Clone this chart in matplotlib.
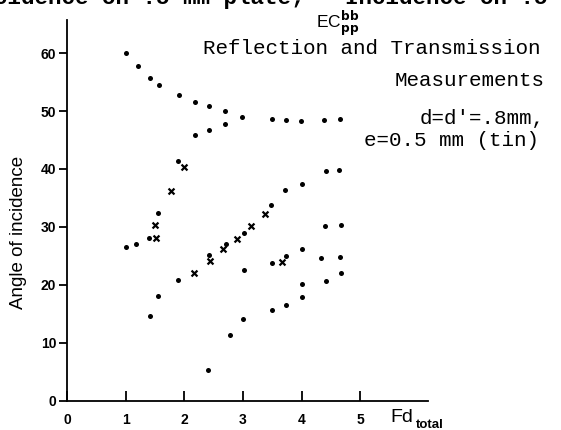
import matplotlib
matplotlib.use("Agg")
import matplotlib.pyplot as plt

# Measured points (Fd_total, angle of incidence in degrees)
dot_fd = [1.00, 1.21, 1.42, 1.56, 1.91, 2.18, 2.41, 2.70, 2.99, 3.49, 3.73, 3.99, 4.38, 4.65,
          2.18, 2.41, 2.70,
          1.89, 1.54, 1.39, 1.18, 1.00,
          2.71, 2.42, 3.01, 3.48, 3.72, 4.00, 4.42, 4.64,
          4.40, 4.67, 4.00, 3.73, 3.50, 4.33, 4.66, 3.01, 4.67, 4.41, 4.00, 4.00, 3.74, 3.50, 3.00,
          1.89, 1.55, 1.41, 2.77, 2.40]
dot_angle = [60.0, 57.8, 55.7, 54.5, 52.7, 51.5, 50.8, 50.0, 48.9, 48.6, 48.5, 48.3, 48.5, 48.7,
             45.9, 46.7, 47.7,
             41.3, 32.4, 28.0, 27.0, 26.5,
             27.0, 25.2, 28.9, 33.7, 36.3, 37.4, 39.7, 39.8,
             30.2, 30.3, 26.2, 25.0, 23.8, 24.6, 24.8, 22.6, 22.0, 20.7, 20.1, 17.9, 16.6, 15.7, 14.1,
             20.9, 18.0, 14.6, 11.4, 5.3]

cross_fd = [2.00, 1.77, 1.50, 1.52, 2.66, 2.43, 2.16, 2.90, 3.14, 3.37, 3.66]
cross_angle = [40.3, 36.2, 30.3, 28.1, 26.1, 24.1, 22.1, 27.9, 30.1, 32.2, 24.0]

x_ticks = [0, 1, 2, 3, 4, 5]
y_ticks = [0, 10, 20, 30, 40, 50, 60]

W, H = 561, 430
fig = plt.figure(figsize=(W / 100, H / 100), dpi=100)
ax = fig.add_axes([0.1199, 0.0681, 0.6435, 0.8853])

ax.scatter(dot_fd, dot_angle, s=13, c="black", marker="o", linewidths=0, zorder=3)
ax.scatter(cross_fd, cross_angle, s=18, c="black", marker="x", linewidths=1.6, zorder=3)

ax.set_xlim(0, 6.16)
ax.set_ylim(0, 65.7)
for side in ("top", "right"):
    ax.spines[side].set_visible(False)
for side in ("left", "bottom"):
    ax.spines[side].set_linewidth(1.3)
    ax.spines[side].set_color("black")

ax.set_xticks(x_ticks)
ax.set_yticks(y_ticks)
ax.tick_params(axis="x", direction="in", length=7, width=1.3, pad=9)
ax.tick_params(axis="y", direction="out", length=6, width=1.3, pad=2)
tick_font = dict(family="Liberation Sans", weight="bold", size=10)
ax.set_xticklabels([str(v) for v in x_ticks], **tick_font)
ax.set_yticklabels([str(v) for v in y_ticks], **tick_font)

ax.set_ylabel("Angle of incidence", family="Liberation Sans", fontsize=13.5)
ax.yaxis.set_label_coords(-0.112, 0.443)


def px(x, y):
    return x / W, 1 - y / H


# Axis name at the end of the x axis
fig.text(*px(390, 418), "Fd", family="Liberation Sans", fontsize=14,
         va="center", ha="left")
fig.text(*px(416, 425), "total", family="Liberation Sans", fontsize=9.5,
         weight="bold", va="center", ha="left")

# Title block
fig.text(*px(316, 23), r"EC$_{\mathbf{pp}}^{\mathbf{bb}}$", family="Liberation Sans",
         fontsize=12.5, va="center", ha="left")
mono = dict(family="Liberation Mono", fontsize=15, color="black")
fig.text(*px(372, 48), "Reflection and Transmission", va="center", ha="center", **mono)
fig.text(*px(470, 81), "Measurements", va="center", ha="center", **mono)
fig.text(*px(482, 119), "d=d'=.8mm,", va="center", ha="center", **mono)
fig.text(*px(451, 140), "e=0.5 mm (tin)", va="center", ha="center", **mono)

# Running caption from the page above, cut off by the figure edge
fig.text(*px(-6, 4), "cidence on .5 mm plate;   Incidence on .5 mm",
         va="baseline", ha="left", family="Liberation Mono", fontsize=16.2, weight="bold")

fig.savefig("out.png", dpi=100)
